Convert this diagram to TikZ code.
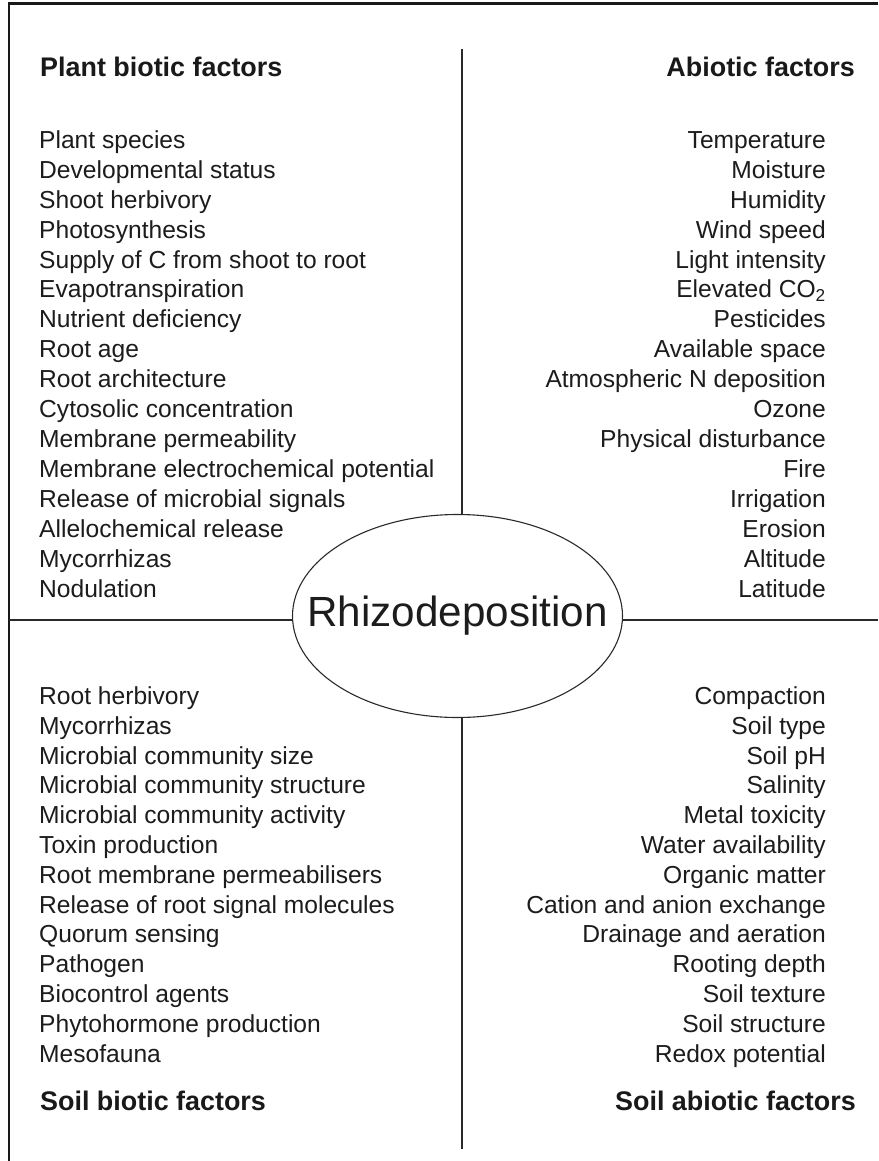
\documentclass[tikz,border=0pt]{standalone}
\usepackage{fontspec}
\setmainfont{Liberation Sans}
\usetikzlibrary{shapes.geometric}
\definecolor{txt}{HTML}{1C1C1C}
\definecolor{ln}{HTML}{2A2A2A}
\tikzset{
  item/.style={inner sep=0pt, text=txt, font=\fontsize{24.6}{29.9}\selectfont},
  head/.style={inner sep=0pt, text=black!90, font=\fontsize{26.9}{32}\selectfont\bfseries},
  divider/.style={draw=ln, line width=1.4pt},
  frame/.style={draw=black!90, line width=2.2pt},
  centre/.style={ellipse, draw=ln, line width=1.1pt, inner sep=0pt, minimum width=330pt, minimum height=203pt, text=txt, font=\fontsize{42.2}{50}\selectfont}
}
\begin{document}
\begin{tikzpicture}[x=1pt, y=-1pt]
\useasboundingbox (0,0) rectangle (878,1161);
\fill[white] (0,0) rectangle (878,1161);
% frame
\coordinate (fl) at (9,1161);
\coordinate (fc) at (9,3.5);
\coordinate (fr) at (878,3.5);
\draw[frame] (fl) -- (fc) -- (fr);
% headings
\node[head, anchor=base west] (hpb) at (40,76.5) {Plant biotic factors};
\node[head, anchor=base east] (hab) at (855,76.5) {Abiotic factors};
\node[head, anchor=base west] (hsb) at (40,1110) {Soil biotic factors};
\node[head, anchor=base east] (hsa) at (856,1110) {Soil abiotic factors};
% lists
\foreach \t [count=\i] in {Plant species, Developmental status, Shoot herbivory, Photosynthesis, Supply of C from shoot to root, Evapotranspiration, Nutrient deficiency, Root age, Root architecture, Cytosolic concentration, Membrane permeability, Membrane electrochemical potential, Release of microbial signals, Allelochemical release, Mycorrhizas, Nodulation}
  \node[item, anchor=base west] (pb\i) at (39,{148.3+29.93*(\i-1)}) {\t};
\foreach \t [count=\i] in {Temperature, Moisture, Humidity, Wind speed, Light intensity, Elevated CO\textsubscript{2}, Pesticides, Available space, Atmospheric N deposition, Ozone, Physical disturbance, Fire, Irrigation, Erosion, Altitude, Latitude}
  \node[item, anchor=base east] (ab\i) at (826,{148.3+29.93*(\i-1)}) {\t};
\foreach \t [count=\i] in {Root herbivory, Mycorrhizas, Microbial community size, Microbial community structure, Microbial community activity, Toxin production, Root membrane permeabilisers, Release of root signal molecules, Quorum sensing, Pathogen, Biocontrol agents, Phytohormone production, Mesofauna}
  \node[item, anchor=base west] (sb\i) at (39,{704.5+29.8*(\i-1)}) {\t};
\foreach \t [count=\i] in {Compaction, Soil type, Soil pH, Salinity, Metal toxicity, Water availability, Organic matter, Cation and anion exchange, Drainage and aeration, Rooting depth, Soil texture, Soil structure, Redox potential}
  \node[item, anchor=base east] (sa\i) at (826,{704.5+29.8*(\i-1)}) {\t};
% centre
\node[centre] (rh) at (457.5,616) {\raisebox{-14pt}{\makebox[0pt]{Rhizodeposition}}};
% dividers
\coordinate (vt) at (462,49);
\coordinate (vb) at (462,1149);
\coordinate (hl) at (9,620);
\coordinate (hr) at (878,620);
\draw[divider] (vt) -- (vt |- rh.north);
\draw[divider] (vb) -- (vb |- rh.south);
\draw[divider] (hl) -- (hl -| rh.west);
\draw[divider] (hr) -- (hr -| rh.east);
\end{tikzpicture}
\end{document}
